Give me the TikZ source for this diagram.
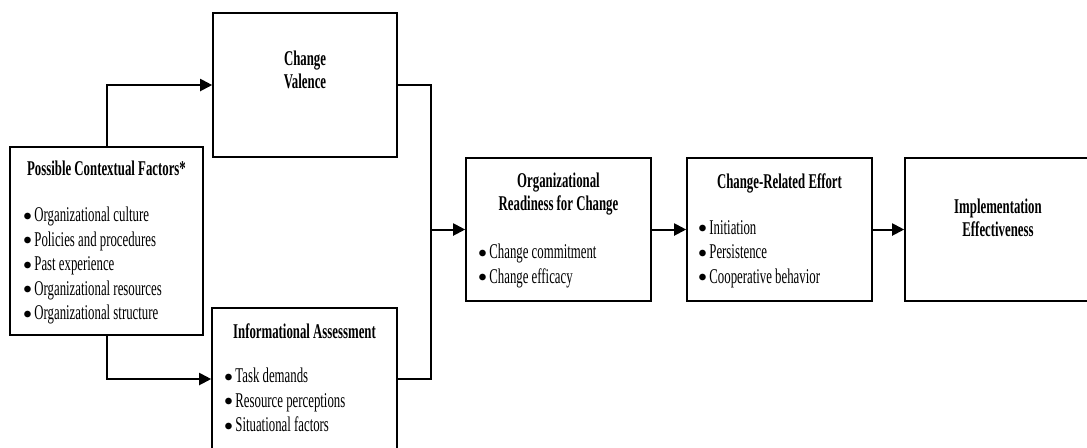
\documentclass[tikz,border=0pt]{standalone}
\usepackage{fontspec}
\setmainfont[FakeStretch=0.61]{Liberation Serif}
\usetikzlibrary{arrows.meta}
\newcommand{\itm}[1]{\makebox[5.5pt][l]{\raisebox{0.9pt}{\fontsize{8.5}{8.5}\selectfont$\bullet$}}#1}
\begin{document}
\begin{tikzpicture}[>={Triangle[length=6pt,width=6pt]}, x=0.5pt, y=-0.5pt,
    box/.style={draw, line width=0.8pt, inner sep=0pt, minimum width=92.5pt, minimum height=71.5pt},
    head/.style={inner sep=0pt, align=center, font=\fontsize{10.5}{11.5}\selectfont\bfseries},
    list/.style={inner sep=0pt, align=left, font=\fontsize{10.5}{12.25}\selectfont},
    link/.style={line width=1pt}]
\useasboundingbox (0,0) rectangle (1087,447);
\clip (0,0) rectangle (1087,447);
\node[box, minimum width=96.5pt, minimum height=94pt] (ctx) at (106.5,241) {};
\node[box, minimum width=92pt, minimum height=72pt] (val) at (305,85) {};
\node[box, minimum height=71pt] (info) at (304.5,379) {};
\node[box] (orc) at (558.5,229.5) {};
\node[box] (cre) at (779.5,229.5) {};
\node[box, minimum width=93pt] (ie) at (998,229.5) {};

\node[head, anchor=north] (ctxh) at (106.5,161) {Possible Contextual Factors*};
\node[list, anchor=north west] (ctxl) at (23,207) {\itm{Organizational culture}\\\itm{Policies and procedures}\\\itm{Past experience}\\\itm{Organizational resources}\\\itm{Organizational structure}};
\node[head, anchor=north] (valh) at (305,51) {Change\\Valence};
\node[head, anchor=north] (infoh) at (304.5,323) {Informational Assessment};
\node[list, anchor=north west] (infol) at (224,368) {\itm{Task demands}\\\itm{Resource perceptions}\\\itm{Situational factors}};
\node[head, anchor=north] (orch) at (558.5,173) {Organizational\\Readiness for Change};
\node[list, anchor=north west] (orcl) at (478,244) {\itm{Change commitment}\\\itm{Change efficacy}};
\node[head, anchor=north] (creh) at (779.5,173) {Change-Related Effort};
\node[list, anchor=north west] (crel) at (698,220) {\itm{Initiation}\\\itm{Persistence}\\\itm{Cooperative behavior}};
\node[head, anchor=north] (ieh) at (998,199) {Implementation\\Effectiveness};

\coordinate (jn) at (431,229.5);
\draw[link, ->] (ctx.north) |- (val.west);
\draw[link, ->] (ctx.south) |- (info.west);
\draw[link] (val.east) -| (jn) |- (info.east);
\draw[link, ->] (jn) -- (orc.west);
\draw[link, ->] (orc.east) -- (cre.west);
\draw[link, ->] (cre.east) -- (ie.west);
\end{tikzpicture}
\end{document}
